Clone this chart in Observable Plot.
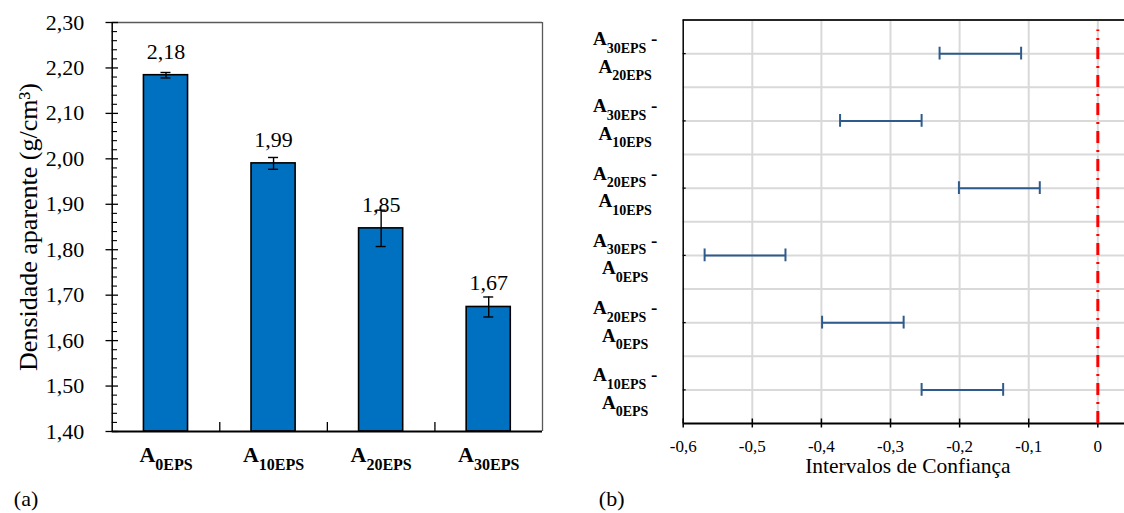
<!DOCTYPE html>
<html>
<head>
<meta charset="utf-8">
<script src="https://cdn.jsdelivr.net/npm/d3@7"></script>
<script src="https://cdn.jsdelivr.net/npm/@observablehq/plot@0.6"></script>
<style>
  html, body { margin: 0; padding: 0; background: #fff; }
  #wrap { position: relative; width: 1124px; height: 513px; overflow: hidden; }
  #wrap svg { position: absolute; top: 0; }
</style>
</head>
<body>
<div id="wrap"></div>
<script>
// ---------- Data: panel (a) ----------
const categories = ["0EPS", "10EPS", "20EPS", "30EPS"];
const densities = [2.184, 1.990, 1.847, 1.674];
const densityErrors = [0.006, 0.013, 0.040, 0.022];
const yMajorTicks = [1.40, 1.50, 1.60, 1.70, 1.80, 1.90, 2.00, 2.10, 2.20, 2.30];
const yTitleA = "Densidade aparente (g/cm³)";

// ---------- Data: panel (b) ----------
const compA = ["30EPS", "30EPS", "20EPS", "30EPS", "20EPS", "10EPS"];
const compB = ["20EPS", "10EPS", "10EPS", "0EPS", "0EPS", "0EPS"];
const ciLower = [-0.229, -0.373, -0.201, -0.569, -0.399, -0.255];
const ciUpper = [-0.111, -0.255, -0.084, -0.452, -0.281, -0.137];
const xTicksB = [-0.6, -0.5, -0.4, -0.3, -0.2, -0.1, 0];
const xTitleB = "Intervalos de Confiança";

const fmt2 = v => v.toFixed(2).replace(".", ",");
const fmt1 = v => Math.abs(v) < 1e-9 ? "0" : v.toFixed(1).replace(".", ",");
const FONT = "'Liberation Serif', 'Times New Roman', serif";

// ---------- layout (a) ----------
const A = {width: 560, height: 513, ml: 111.7, mr: 18, mt: 22, mb: 82};
const xDomA = [-0.5, categories.length - 0.5];
const yDomA = [1.4, 2.3];
const pxXA = (A.width - A.ml - A.mr) / (xDomA[1] - xDomA[0]);
const pxYA = (A.height - A.mt - A.mb) / (yDomA[1] - yDomA[0]);

const bars = categories.map((c, i) => ({i, c, v: densities[i], e: densityErrors[i]}));
const yMinorTicks = d3.range(0, 46).map(k => +(1.4 + k * 0.02).toFixed(2)).filter((_, k) => k % 5 !== 0);

// ---------- layout (b) ----------
const B = {width: 564, height: 513, ml: 122.7, mr: 0, mt: 19.5, mb: 90};
const nRows = compA.length;
const xDomB = [-0.6, 0.0386];
const yDomB = [0, 2 * nRows];
const pxXB = (B.width - B.ml - B.mr) / (xDomB[1] - xDomB[0]);
const pxYB = (B.height - B.mt - B.mb) / (yDomB[1] - yDomB[0]);

const ci = compA.map((a, i) => ({a, b: compB[i], lo: ciLower[i], hi: ciUpper[i], row: 2 * (nRows - 1 - i) + 1}));
const rowTicks = ci.map(d => d.row);
const yGridB = d3.range(1, 2 * nRows);

// ---------- subscript post-processing ----------
function subscriptify(svg, subSize, shift, lineYs) {
  const ns = "http://www.w3.org/2000/svg";
  svg.querySelectorAll("text").forEach(t => {
    const s = t.textContent;
    if (!s.includes("|")) return;
    t.textContent = "";
    t.removeAttribute("y");
    s.split("~").forEach((line, li) => {
      const parts = line.split("|");
      const a = document.createElementNS(ns, "tspan");
      a.setAttribute("x", 0);
      a.setAttribute("y", lineYs[li]);
      a.textContent = parts[0];
      t.appendChild(a);
      if (parts[1] !== undefined) {
        const sub = document.createElementNS(ns, "tspan");
        sub.setAttribute("dy", shift);
        sub.setAttribute("font-size", subSize);
        sub.textContent = parts[1];
        t.appendChild(sub);
      }
      if (parts[2] !== undefined && parts[2] !== "") {
        const rest = document.createElementNS(ns, "tspan");
        rest.setAttribute("dy", -shift);
        rest.textContent = "\u00a0" + parts[2].trim();
        t.appendChild(rest);
      }
    });
  });
}

// ---------- Panel (a) ----------
const plotA = Plot.plot({
  width: A.width,
  height: A.height,
  marginLeft: A.ml,
  marginRight: A.mr,
  marginTop: A.mt,
  marginBottom: A.mb,
  x: {type: "linear", domain: xDomA, axis: null},
  y: {domain: yDomA, axis: null},
  style: {fontFamily: FONT, background: "transparent", color: "black", overflow: "visible"},
  marks: [
    Plot.ruleY([yDomA[1]], {stroke: "#595959", strokeWidth: 1.3}),
    Plot.ruleX([xDomA[1]], {stroke: "#595959", strokeWidth: 1.3}),
    Plot.rectY(bars, {x1: d => d.i - 0.205, x2: d => d.i + 0.205, y1: yDomA[0], y2: "v",
      fill: "#0070C0", stroke: "black", strokeWidth: 1.6}),
    Plot.ruleX(bars, {x: "i", y1: d => d.v - d.e, y2: d => d.v + d.e, stroke: "black", strokeWidth: 1.4}),
    Plot.ruleY(bars, {y: d => d.v + d.e, x1: d => d.i - 5 / pxXA, x2: d => d.i + 5 / pxXA, stroke: "black", strokeWidth: 1.4}),
    Plot.ruleY(bars, {y: d => d.v - d.e, x1: d => d.i - 5 / pxXA, x2: d => d.i + 5 / pxXA, stroke: "black", strokeWidth: 1.4}),
    Plot.text(bars, {x: "i", y: "v", text: d => fmt2(d.v), dy: -16.5, lineAnchor: "bottom",
      fontSize: 22, fill: "black"}),
    Plot.ruleX([xDomA[0]], {stroke: "black", strokeWidth: 1.5}),
    Plot.ruleY([yDomA[0]], {stroke: "black", strokeWidth: 2}),
    // major ticks (crossing) and minor ticks (inside)
    Plot.ruleY(yMajorTicks, {x1: xDomA[0] - 6.2 / pxXA, x2: xDomA[0] + 6.3 / pxXA, stroke: "black", strokeWidth: 1.3}),
    Plot.ruleY(yMinorTicks, {x1: xDomA[0], x2: xDomA[0] + 5.3 / pxXA, stroke: "black", strokeWidth: 1.1}),
    Plot.text(yMajorTicks, {frameAnchor: "left", y: d => d, text: fmt2, dx: -28, textAnchor: "end",
      lineAnchor: "middle", fontSize: 22, fill: "black"}),
    Plot.ruleX(d3.range(0.5, categories.length - 0.5, 1), {y1: yDomA[0], y2: yDomA[0] + 9 / pxYA, stroke: "black", strokeWidth: 1.3}),
    Plot.text(categories, {x: (d, i) => i, frameAnchor: "bottom", dy: 30.7, text: d => "A|" + d,
      fontWeight: "bold", fontSize: 22, lineAnchor: "bottom", textAnchor: "middle", fill: "black"}),
    Plot.text([yTitleA], {frameAnchor: "left", rotate: -90, dx: -75.7, lineAnchor: "bottom",
      textAnchor: "middle", fontSize: 26, fill: "black"}),
    Plot.text(["(a)"], {frameAnchor: "bottom-left", dx: -98.4, dy: 74, textAnchor: "start", lineAnchor: "bottom", fontSize: 22, fill: "black"})
  ]
});
subscriptify(plotA, 16, 7.6, [0]);
plotA.style.left = "0px";

// ---------- Panel (b) ----------
const plotB = Plot.plot({
  width: B.width,
  height: B.height,
  marginLeft: B.ml,
  marginRight: B.mr,
  marginTop: B.mt,
  marginBottom: B.mb,
  x: {domain: xDomB, axis: null},
  y: {domain: yDomB, axis: null},
  style: {fontFamily: FONT, background: "transparent", color: "black", overflow: "visible"},
  marks: [
    Plot.ruleX(xTicksB.slice(1), {stroke: "#d9d9d9", strokeWidth: 2}),
    Plot.ruleY(yGridB, {stroke: "#d9d9d9", strokeWidth: 2}),
    Plot.ruleY([yDomB[1]], {stroke: "#262626", strokeWidth: 2}),
    Plot.ruleX([xDomB[0]], {stroke: "black", strokeWidth: 1.5}),
    Plot.ruleY([yDomB[0]], {stroke: "black", strokeWidth: 2}),
    Plot.ruleX(xTicksB, {y1: -4.5 / pxYB, y2: 4.5 / pxYB, stroke: "black", strokeWidth: 1.5}),
    Plot.text(xTicksB, {x: d => d, frameAnchor: "bottom", text: fmt1, dy: 28.7, lineAnchor: "bottom",
      textAnchor: "middle", fontSize: 17, fill: "black"}),
    Plot.ruleY(rowTicks, {x1: xDomB[0], x2: xDomB[0] + 3 / pxXB, stroke: "black", strokeWidth: 1.2}),
    Plot.ruleX([0], {y1: yDomB[0], y2: 11.7, stroke: "#FF0000", strokeWidth: 3, strokeDasharray: "12,7,2,7"}),
    Plot.ruleY(ci, {y: "row", x1: "lo", x2: "hi", stroke: "#2f5b8c", strokeWidth: 2}),
    Plot.ruleX(ci, {x: "lo", y1: d => d.row - 6.4 / pxYB, y2: d => d.row + 6.4 / pxYB, stroke: "#2f5b8c", strokeWidth: 2}),
    Plot.ruleX(ci, {x: "hi", y1: d => d.row - 6.4 / pxYB, y2: d => d.row + 6.4 / pxYB, stroke: "#2f5b8c", strokeWidth: 2}),
    Plot.text(ci, {frameAnchor: "left", y: "row", dx: -58, text: d => `A|${d.a}|-~A|${d.b}`,
      fontWeight: "bold", fontSize: 19, lineAnchor: "bottom", textAnchor: "middle", fill: "black"}),
    Plot.text([xTitleB], {frameAnchor: "bottom", dx: 4, dy: 49.7, lineAnchor: "bottom",
      textAnchor: "middle", fontSize: 21.5, fill: "black"}),
    Plot.text(["(b)"], {frameAnchor: "bottom-left", dx: -84.4, dy: 82, textAnchor: "start", lineAnchor: "bottom", fontSize: 22, fill: "black"})
  ]
});
subscriptify(plotB, 14, 7.5, [-8.4, 19]);
plotB.style.left = "560px";

document.getElementById("wrap").append(plotA, plotB);
</script>
</body>
</html>
